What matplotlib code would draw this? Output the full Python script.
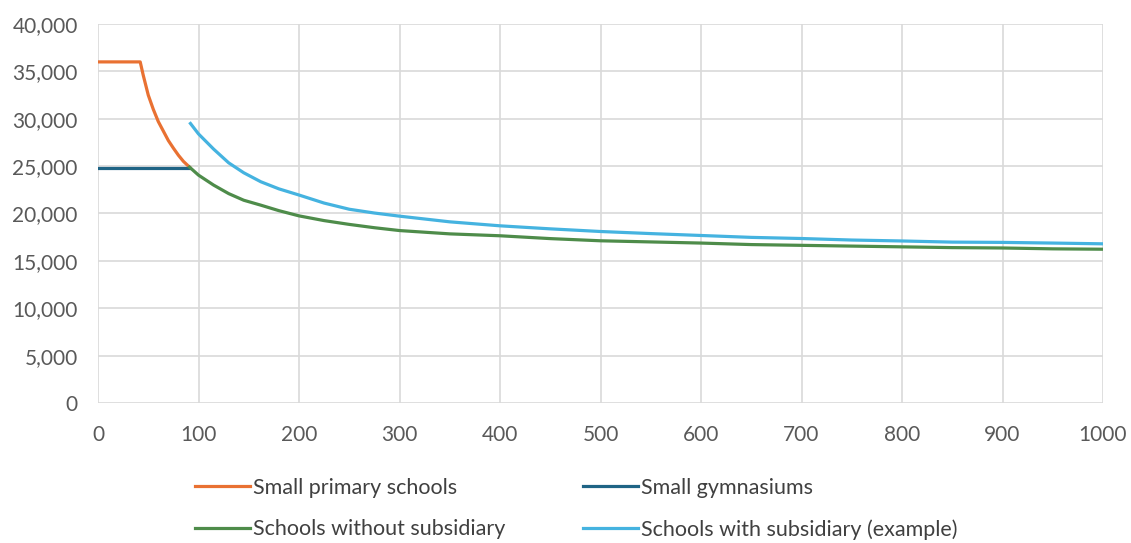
import matplotlib
matplotlib.use("Agg")
import matplotlib.pyplot as plt
from matplotlib.ticker import FuncFormatter, MultipleLocator

# ---- data ----
primary_x = [0, 42, 45, 50, 55, 60, 65, 70, 75, 80, 85, 91]
primary_y = [36000, 36000, 34600, 32500, 31000, 29700, 28700, 27700, 26900, 26150, 25500, 24900]

gym_x = [0, 91]
gym_y = [24800, 24800]

nosub_x = [91, 100, 115, 130, 145, 162, 180, 200, 225, 250, 275, 300, 350, 400, 450,
           500, 550, 600, 650, 700, 750, 800, 850, 900, 950, 1000]
nosub_y = [24900, 24050, 23000, 22100, 21400, 20880, 20300, 19750, 19250, 18850, 18500,
           18200, 17850, 17650, 17350, 17120, 17000, 16880, 16720, 16640, 16560, 16480,
           16400, 16360, 16270, 16230]

sub_x = [92, 100, 115, 130, 145, 162, 180, 200, 225, 250, 275, 300, 350, 400, 450,
         500, 550, 600, 650, 700, 750, 800, 850, 900, 950, 1000]
sub_y = [29500, 28400, 26800, 25350, 24300, 23350, 22600, 21950, 21100, 20450, 20050,
         19720, 19120, 18700, 18380, 18100, 17880, 17680, 17480, 17360, 17200, 17100,
         16980, 16950, 16880, 16800]

labels = ["Small primary schools", "Small gymnasiums",
          "Schools without subsidiary", "Schools with subsidiary (example)"]
colors = ["#E97132", "#1F6485", "#4E8C4A", "#45B3E0"]

plt.rcParams['font.family'] = ['Lato', 'DejaVu Sans']

fig = plt.figure(figsize=(11.31, 5.43), dpi=100)
ax = fig.add_axes([98/1131, 1-403/543, (1103-98)/1131, (403-24)/543])

lw = 2.3
h1, = ax.plot(primary_x, primary_y, color=colors[0], lw=lw, label=labels[0], zorder=3)
h2, = ax.plot(gym_x, gym_y, color=colors[1], lw=lw, label=labels[1], zorder=3)
h3, = ax.plot(nosub_x, nosub_y, color=colors[2], lw=lw, label=labels[2], zorder=4)
h4, = ax.plot(sub_x, sub_y, color=colors[3], lw=lw, label=labels[3], zorder=3)

ax.set_xlim(0, 1000)
ax.set_ylim(0, 40000)
ax.xaxis.set_major_locator(MultipleLocator(100))
ax.yaxis.set_major_locator(MultipleLocator(5000))
ax.yaxis.set_major_formatter(FuncFormatter(lambda v, p: f"{int(v):,}"))

ax.grid(True, color="#D9D9D9", lw=1.2, zorder=0)
ax.set_axisbelow(True)
for s in ax.spines.values():
    s.set_visible(False)
ax.tick_params(length=0, labelsize=15, labelcolor="#595959")
ax.tick_params(axis='y', pad=14.5)
ax.tick_params(axis='x', pad=16)

fig.legend([h1, h3, h2, h4], [labels[0], labels[2], labels[1], labels[3]],
           ncol=2, loc="upper left", bbox_to_anchor=(195/1131, 1-478/543),
           frameon=False, fontsize=15.5, handlelength=2.55, handletextpad=0.14,
           columnspacing=3.6, labelspacing=0.98, borderpad=0, borderaxespad=0,
           labelcolor="#404040")

fig.savefig("out.png", dpi=100)
